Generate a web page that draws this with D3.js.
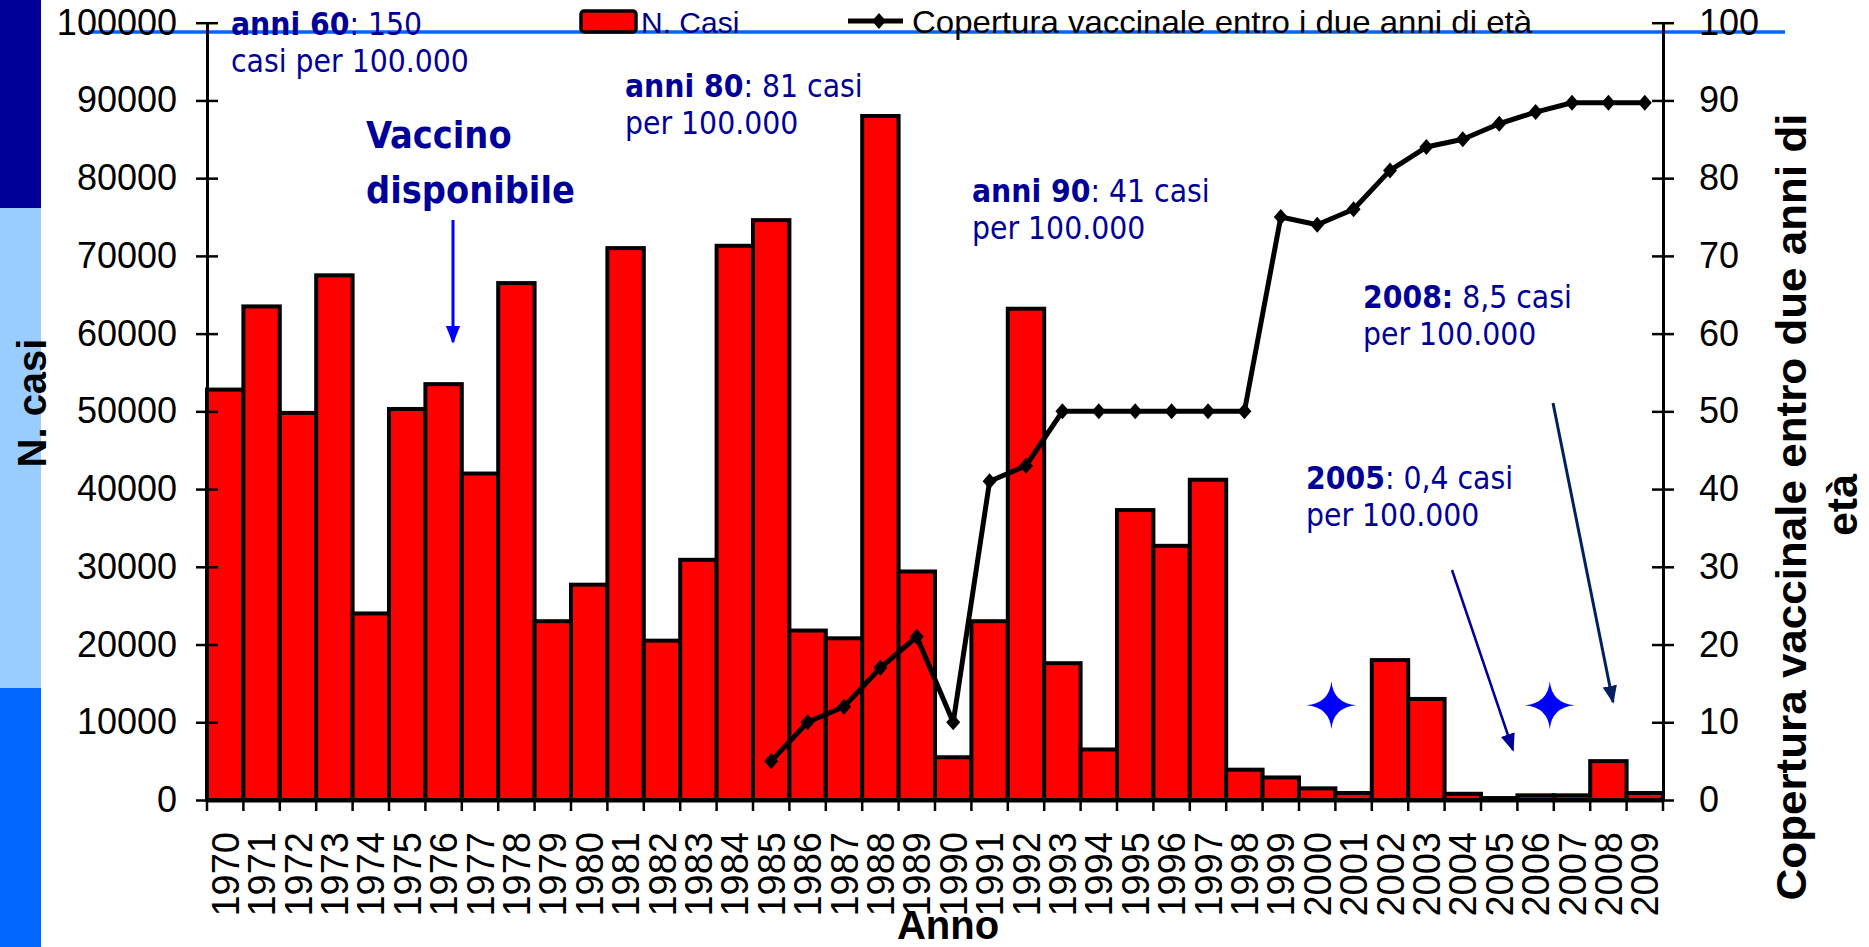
<!DOCTYPE html>
<html>
<head>
<meta charset="utf-8">
<script src="https://cdn.jsdelivr.net/npm/d3@7"></script>
<style>
  body { margin: 0; background: #fff; }
  svg { display: block; }
  text { font-family: "Liberation Sans", Arial, sans-serif; }
  .ann { font-family: "DejaVu Sans Condensed", "DejaVu Sans", sans-serif; fill: #000099; font-size: 31.5px; }
</style>
</head>
<body>
<div id="chart"></div>
<script>
// data
var years = d3.range(1970, 2010).map(String);
var casi = [52800, 63500, 49800, 67500, 24000, 50300, 53500, 42000, 66500, 23000,
            27700, 71000, 20500, 30900, 71300, 74600, 21800, 20800, 88000, 29400,
            5500, 23000, 63200, 17600, 6500, 37300, 32700, 41200, 3900, 2900,
            1500, 900, 18000, 13000, 800, 250, 600, 600, 5000, 900];
var covYears = d3.range(1985, 2010).map(String);
var copertura = [5, 10, 12, 17, 21, 10, 41, 43, 50, 50,
                 50, 50, 50, 50, 75, 74, 76, 81, 84, 85,
                 87, 88.5, 89.7, 89.7, 89.7];
var leftTicks = d3.range(0, 100001, 10000);
var rightTicks = d3.range(0, 101, 10);

var svgWidth = 1869, svgHeight = 947;
var svg = d3.select("#chart").append("svg")
  .attr("width", svgWidth).attr("height", svgHeight);

var x = d3.scaleBand().domain(years).range([207, 1663]).padding(0);
var yL = d3.scaleLinear().domain([0, 100000]).range([800, 22.7]);
var yR = d3.scaleLinear().domain([0, 100]).range([800, 22.7]);

// arrow heads
var defs = svg.append("defs");
function arrowHead(id, color) {
  defs.append("marker")
    .attr("id", id)
    .attr("viewBox", "0 0 10 10")
    .attr("refX", 9).attr("refY", 5)
    .attr("markerUnits", "userSpaceOnUse")
    .attr("markerWidth", 18).attr("markerHeight", 18)
    .attr("orient", "auto")
    .append("path").attr("d", "M0,1 L10,5 L0,9 Z").attr("fill", color);
}
arrowHead("arrBlue", "#0000ff");
arrowHead("arrNavy", "#000099");
arrowHead("arrDark", "#002060");

// slide decoration: left colour strip and blue top line
svg.append("rect").attr("x", 0).attr("y", 0).attr("width", 41).attr("height", 208).attr("fill", "#000099");
svg.append("rect").attr("x", 0).attr("y", 208).attr("width", 41).attr("height", 480).attr("fill", "#99ccff");
svg.append("rect").attr("x", 0).attr("y", 688).attr("width", 41).attr("height", 259).attr("fill", "#0066ff");
svg.append("line").attr("x1", 88).attr("x2", 1785).attr("y1", 32).attr("y2", 32)
  .attr("stroke", "#0066ff").attr("stroke-width", 3.5);

// bars
svg.append("g").selectAll("rect")
  .data(casi)
  .enter()
  .append("rect")
  .attr("x", function(d, i) { return x(years[i]); })
  .attr("y", function(d) { return yL(d); })
  .attr("width", x.bandwidth())
  .attr("height", function(d) { return yL(0) - yL(d); })
  .attr("fill", "#ff0000")
  .attr("stroke", "#000")
  .attr("stroke-width", 4);

// left axis
var leftAxis = d3.axisLeft(yL).tickValues(leftTicks).tickSize(0).tickPadding(30).tickFormat(d3.format("d"));
var gl = svg.append("g").attr("transform", "translate(207,0)").call(leftAxis);
gl.select(".domain").attr("stroke-width", 3);
gl.selectAll(".tick line").attr("x1", -11).attr("x2", 11).attr("stroke-width", 2.5);
gl.selectAll(".tick text").style("font-size", "36px").attr("fill", "#000");

// right axis
var rightAxis = d3.axisRight(yR).tickValues(rightTicks).tickSize(0).tickPadding(36);
var gr = svg.append("g").attr("transform", "translate(1663,0)").call(rightAxis);
gr.select(".domain").attr("stroke-width", 3);
gr.selectAll(".tick line").attr("x1", -11).attr("x2", 11).attr("stroke-width", 2.5);
gr.selectAll(".tick text").style("font-size", "36px").attr("fill", "#000");

// bottom axis
var bottomAxis = d3.axisBottom(x).tickSize(0).tickSizeOuter(0);
var gb = svg.append("g").attr("transform", "translate(0,800)").call(bottomAxis);
gb.select(".domain").attr("stroke-width", 4);
gb.selectAll(".tick text")
  .attr("transform", "rotate(-90)")
  .attr("x", -32).attr("y", 0).attr("dy", "0.36em")
  .style("text-anchor", "end")
  .style("font-size", "38px")
  .attr("fill", "#000");
// ticks between the years
gb.append("g").selectAll("line")
  .data(years.concat(["end"]))
  .enter()
  .append("line")
  .attr("x1", function(d) { return d === "end" ? x.range()[1] : x(d); })
  .attr("x2", function(d) { return d === "end" ? x.range()[1] : x(d); })
  .attr("y1", 0).attr("y2", 11)
  .attr("stroke", "#000").attr("stroke-width", 2.5);

// coverage line
var line = d3.line()
  .x(function(d, i) { return x(covYears[i]) + x.bandwidth() / 2; })
  .y(function(d) { return yR(d); });
svg.append("path").datum(copertura)
  .attr("d", line)
  .attr("fill", "none")
  .attr("stroke", "#000")
  .attr("stroke-width", 5)
  .attr("stroke-linejoin", "round");

var diamond = { draw: function(ctx, size) {
  ctx.moveTo(0, -8); ctx.lineTo(7, 0); ctx.lineTo(0, 8); ctx.lineTo(-7, 0); ctx.closePath();
} };
svg.append("g").selectAll("path")
  .data(copertura)
  .enter()
  .append("path")
  .attr("d", d3.symbol().type(diamond))
  .attr("transform", function(d, i) {
    return "translate(" + (x(covYears[i]) + x.bandwidth() / 2) + "," + yR(d) + ")";
  })
  .attr("fill", "#000");

// axis titles
svg.append("text")
  .attr("transform", "translate(32,403) rotate(-90)")
  .attr("text-anchor", "middle").attr("dy", "0.36em")
  .style("font-size", "40px").style("font-weight", "bold")
  .text("N. casi");
svg.append("text")
  .attr("x", 948).attr("y", 939)
  .attr("text-anchor", "middle")
  .style("font-size", "40px").style("font-weight", "bold")
  .text("Anno");
svg.append("text")
  .attr("transform", "translate(1791,507) rotate(-90)")
  .attr("text-anchor", "middle").attr("dy", "0.36em")
  .attr("textLength", 787).attr("lengthAdjust", "spacingAndGlyphs")
  .style("font-size", "43px").style("font-weight", "bold")
  .text("Copertura vaccinale entro due anni di");
svg.append("text")
  .attr("transform", "translate(1842,505) rotate(-90)")
  .attr("text-anchor", "middle").attr("dy", "0.36em")
  .style("font-size", "43px").style("font-weight", "bold")
  .text("età");

// legend
svg.append("rect").attr("x", 581).attr("y", 11).attr("width", 55).attr("height", 21).attr("rx", 3)
  .attr("fill", "#ff0000").attr("stroke", "#000").attr("stroke-width", 3.5);
svg.append("text").attr("x", 641).attr("y", 33)
  .style("font-size", "30px").attr("fill", "#000080")
  .text("N. Casi");
svg.append("line").attr("x1", 848).attr("x2", 903).attr("y1", 21).attr("y2", 21)
  .attr("stroke", "#000").attr("stroke-width", 5);
svg.append("path").attr("d", d3.symbol().type(diamond)).attr("transform", "translate(879,21)");
svg.append("text").attr("x", 912).attr("y", 33)
  .attr("textLength", 620).attr("lengthAdjust", "spacingAndGlyphs")
  .style("font-size", "32px").attr("fill", "#000")
  .text("Copertura vaccinale entro i due anni di età");

// annotations
function annot(xp, yp, bold, rest, line2) {
  var t = svg.append("text").attr("class", "ann").attr("x", xp).attr("y", yp);
  t.append("tspan").style("font-weight", "bold").text(bold);
  t.append("tspan").text(rest);
  if (line2) svg.append("text").attr("class", "ann").attr("x", xp).attr("y", yp + 37).text(line2);
}
annot(231, 35, "anni 60", ": 150", "casi per 100.000");
annot(625, 97, "anni 80", ": 81 casi", "per 100.000");
annot(972, 202, "anni 90", ": 41 casi", "per 100.000");
annot(1363, 308, "2008:", " 8,5 casi", "per 100.000");
annot(1306, 489, "2005", ": 0,4 casi", "per 100.000");

svg.append("text").attr("class", "ann").attr("x", 366).attr("y", 148)
  .style("font-size", "37.5px").style("font-weight", "bold").text("Vaccino");
svg.append("text").attr("class", "ann").attr("x", 366).attr("y", 203)
  .style("font-size", "37.5px").style("font-weight", "bold").text("disponibile");

// arrows
svg.append("line").attr("x1", 453).attr("y1", 220).attr("x2", 453).attr("y2", 342)
  .attr("stroke", "#0000ff").attr("stroke-width", 3).attr("marker-end", "url(#arrBlue)");
svg.append("line").attr("x1", 1452).attr("y1", 570).attr("x2", 1513).attr("y2", 750)
  .attr("stroke", "#000099").attr("stroke-width", 2.5).attr("marker-end", "url(#arrNavy)");
svg.append("line").attr("x1", 1553).attr("y1", 403).attr("x2", 1613).attr("y2", 702)
  .attr("stroke", "#002060").attr("stroke-width", 3).attr("marker-end", "url(#arrDark)");

// stars
var starPath = "M0,-24 Q2,-2 25,0 Q2,2 0,24 Q-2,2 -25,0 Q-2,-2 0,-24 Z";
[["2001", 12200], ["2007", 12200]].forEach(function(s) {
  svg.append("path").attr("d", starPath)
    .attr("transform", "translate(" + (x(s[0]) - 4) + "," + yL(s[1]) + ")")
    .attr("fill", "#0000ff");
});
</script>
</body>
</html>
